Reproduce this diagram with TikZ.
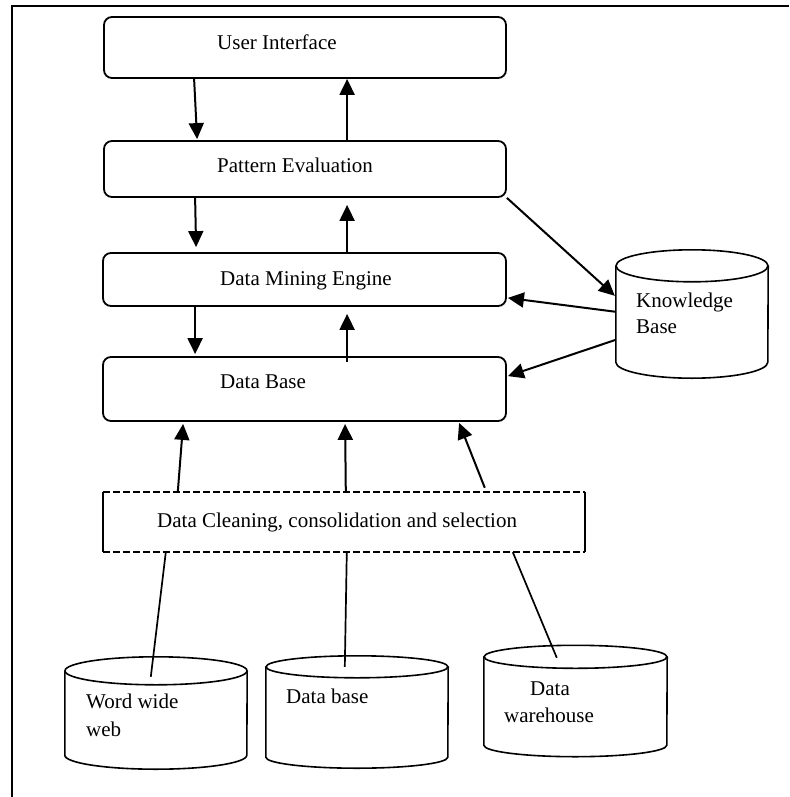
\documentclass[tikz,border=0pt]{standalone}
\usepackage{fontspec}
\setmainfont{Liberation Serif}
\usetikzlibrary{arrows.meta,calc}
\newcommand\drawcyl[3]{%
  \draw[cylline] ($(#1.north west)+(0,#3)$) -- ($(#1.south west)+(0,-#3)$)
    arc[start angle=180,end angle=0,x radius=#2,y radius=#3]
    -- ($(#1.north east)+(0,#3)$);
  \draw[cylline] ($(#1.north)+(0,#3)$) ellipse[x radius=#2,y radius=#3];
}
\begin{document}
\begin{tikzpicture}[x=1pt,y=-1pt,
  box/.style={draw,line width=1.8pt,rounded corners=8pt,inner sep=0pt},
  ghost/.style={inner sep=0pt,draw=none},
  cylline/.style={line width=1.6pt},
  txt/.style={inner sep=0pt,anchor=base west,font=\fontsize{21}{25}\selectfont},
  txtc/.style={inner sep=0pt,anchor=base,font=\fontsize{21}{25}\selectfont},
  conn/.style={line width=2pt,-{Triangle[length=16pt,width=15pt]}},
  plain/.style={line width=1.7pt},
  dashline/.style={line width=2.2pt,dash pattern=on 7pt off 3pt},
  sideline/.style={line width=2.2pt}]
\useasboundingbox (0,0) rectangle (789,797);
% frame
\draw[line width=2.2pt] (789,6) -- (12,6) -- (12,797);

% boxes
\node[box,minimum width=402pt,minimum height=61pt] (ui) at (305,47.5) {};
\node[box,minimum width=402pt,minimum height=56pt] (pe) at (305,169) {};
\node[box,minimum width=403pt,minimum height=53pt] (dme) at (304.5,279.5) {};
\node[box,minimum width=403pt,minimum height=64pt] (db) at (304.5,389) {};
\node[ghost,minimum width=482pt,minimum height=60pt] (clean) at (344,522) {};

\node[txt] (uit) at (217,50) {User Interface};
\node[txt] (pet) at (217,172) {Pattern Evaluation};
\node[txt] (dmet) at (220,285) {Data Mining Engine};
\node[txt] (dbt) at (220,388) {Data Base};
\node[txt] (cleant) at (157,527) {Data Cleaning, consolidation and selection};

% dashed box
\draw[dashline] (clean.north west) -- (clean.north east);
\draw[dashline] (clean.south west) -- (clean.south east);
\draw[sideline] (clean.north west) -- (clean.south west);
\draw[sideline] (clean.north east) -- (clean.south east);

% cylinders
\node[ghost,minimum width=152pt,minimum height=128pt] (kb) at (692,314) {};
\node[ghost,minimum width=182pt,minimum height=112pt] (www) at (156,713) {};
\node[ghost,minimum width=182pt,minimum height=112pt] (dbc) at (357,712) {};
\node[ghost,minimum width=183pt,minimum height=111pt] (dw) at (575.5,701) {};
\drawcyl{kb}{76}{16}
\drawcyl{www}{91}{14}
\drawcyl{dbc}{91}{11}
\drawcyl{dw}{91.5}{11.5}

\node[txt] (kbt1) at (636,307) {Knowledge};
\node[txt] (kbt2) at (636,333) {Base};
\node[txt] (wwwt1) at (86,708) {Word wide};
\node[txt] (wwwt2) at (86,736) {web};
\node[txt] (dbct) at (286,703) {Data base};
\node[txtc] (dwt1) at (550,695) {Data};
\node[txtc] (dwt2) at (549,722) {warehouse};

% vertical arrows
\draw[conn] ($(ui.south west)+(91,0)$) -- ($(pe.north west)+(94,-1)$);
\draw[conn] ($(pe.north west)+(244,0)$) -- ($(ui.south west)+(244,0)$);
\draw[conn] ($(pe.south west)+(92,0)$) -- ($(dme.north west)+(94,-5)$);
\draw[conn] ($(dme.north west)+(245,0)$) -- ($(pe.south west)+(244,7)$);
\draw[conn] ($(dme.south west)+(93,0)$) -- ($(db.north west)+(93,-2)$);
\draw[conn] ($(db.north west)+(245,6)$) -- ($(dme.south west)+(245,7)$);
\draw[conn] ($(clean.north west)+(75,0)$) -- ($(db.south west)+(81,2)$);
\draw[conn] ($(clean.north west)+(243,0)$) -- ($(db.south west)+(243,2)$);
\draw[conn] ($(clean.north west)+(382,-4)$) -- ($(db.south west)+(357,1)$);

% knowledge base arrows
\draw[conn] (pe.south east) -- ($(kb.north west)+(-1,46)$);
\draw[conn] ($(kb.north west)+(0,62)$) -- ($(dme.south east)+(1,-9)$);
\draw[conn] ($(kb.north west)+(0,90)$) -- ($(db.north east)+(1,20)$);

% source lines
\draw[plain] ($(clean.south west)+(63,0)$) -- ($(www.north west)+(86,20)$);
\draw[plain] ($(clean.south west)+(244,0)$) -- ($(dbc.north west)+(79,11)$);
\draw[plain] ($(clean.south west)+(410,0)$) -- ($(dw.north west)+(73,12.5)$);
\end{tikzpicture}
\end{document}
